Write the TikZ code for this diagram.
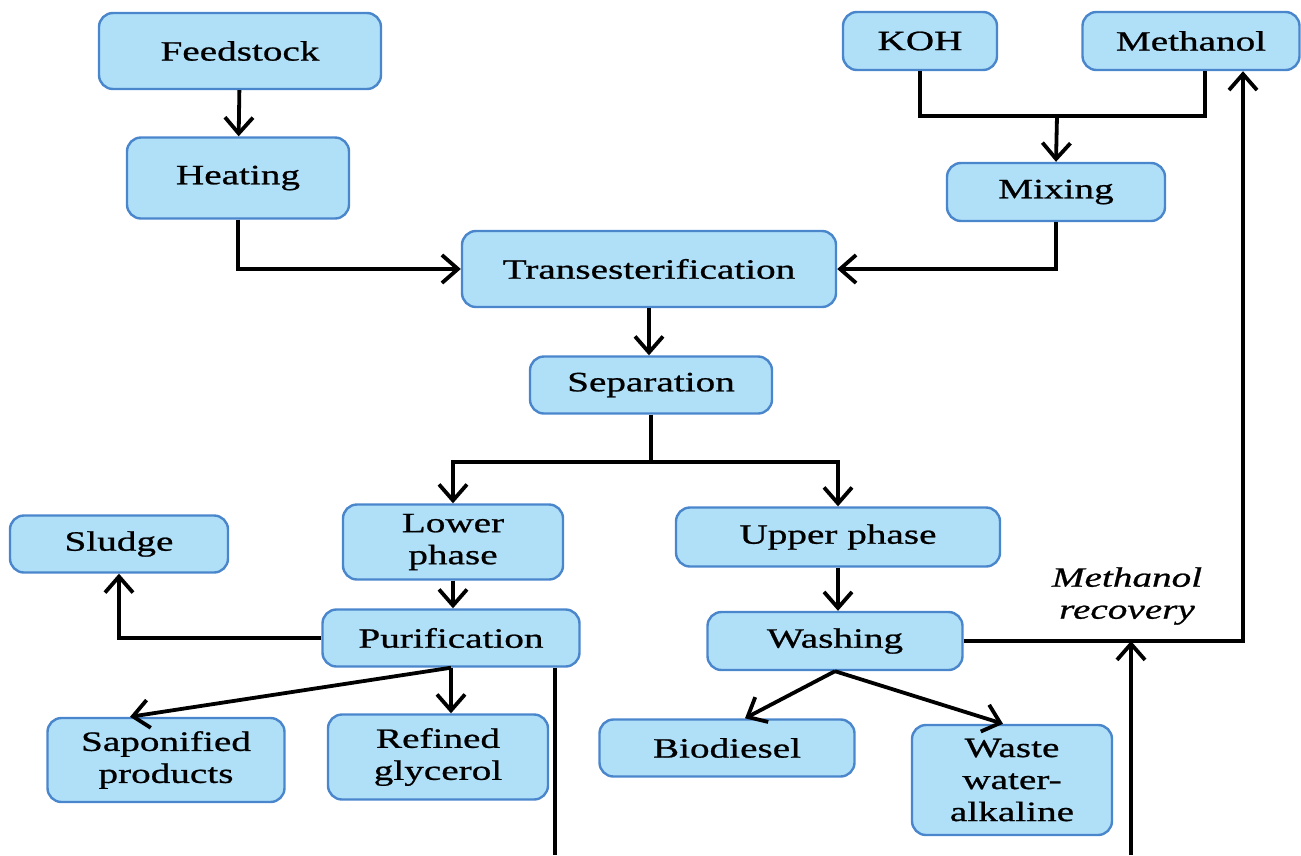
\documentclass[tikz,border=0pt]{standalone}
\usepackage{fontspec}
\setmainfont[FakeStretch=1.4,FakeBold=0.8]{Liberation Serif}
\usetikzlibrary{arrows.meta}
\definecolor{boxfill}{RGB}{176,223,248}
\definecolor{boxline}{RGB}{74,134,204}
\begin{document}
\begin{tikzpicture}[x=1pt,y=-1pt]
	% Styles for the stages and the flows
	\tikzset{stage/.style={draw=boxline, fill=boxfill, line width=2.4pt, rounded corners=14pt, align=center, inner sep=0pt, font=\fontsize{28}{32}\selectfont},
		flow/.style={line width=3.8pt, -{Straight Barb[length=16pt,width=28pt]}},
		pipe/.style={line width=3.8pt}}
	\useasboundingbox (0,0) rectangle (1301,855);
	
	% Feed and catalyst side
	\node[stage, minimum width=282pt, minimum height=76pt] (feed) at (240,51) {Feedstock};
	\node[stage, minimum width=222pt, minimum height=81pt] (heat) at (238,178) {Heating};
	\node[stage, minimum width=154pt, minimum height=58pt] (koh) at (920,41) {KOH};
	\node[stage, minimum width=217pt, minimum height=58pt] (meth) at (1191,41) {Methanol};
	\node[stage, minimum width=218pt, minimum height=58pt] (mix) at (1056,192) {Mixing};
	
	% Reaction and separation
	\node[stage, minimum width=374pt, minimum height=76pt] (trans) at (649,269) {Transesterification};
	\node[stage, minimum width=242pt, minimum height=57pt] (sep) at (651,385) {Separation};
	
	% Lower phase branch
	\node[stage, minimum width=220pt, minimum height=75pt] (lower) at (453,542) {Lower\\phase};
	\node[stage, minimum width=218pt, minimum height=57pt] (sludge) at (119,544) {Sludge};
	\node[stage, minimum width=257pt, minimum height=57pt] (pur) at (451,638) {Purification};
	\node[stage, minimum width=237pt, minimum height=84pt] (sap) at (166,760) {Saponified\\products};
	\node[stage, minimum width=220pt, minimum height=85pt] (ref) at (438,757) {Refined\\glycerol};
	
	% Upper phase branch
	\node[stage, minimum width=324pt, minimum height=59pt] (upper) at (838,537) {Upper phase};
	\node[stage, minimum width=255pt, minimum height=58pt] (wash) at (835,641) {Washing};
	\node[stage, minimum width=255pt, minimum height=57pt] (bio) at (727,748) {Biodiesel};
	\node[stage, minimum width=200pt, minimum height=110pt] (waste) at (1012,780) {Waste\\water-\\alkaline};
	
	\node[align=center, font=\fontsize{28}{32}\selectfont\itshape] (rec) at (1127,596) {Methanol\\recovery};
	
	% Junctions and loose ends
	\coordinate (jn) at (1057,116);
	\coordinate (split) at (651,462);
	\coordinate (pbot) at (555,855);
	\coordinate (rbot) at (1131,855);
	
	% Draw the flows
	\draw[flow] (feed) -- (heat);
	\draw[flow] (heat.south) |- (trans.west);
	\draw[pipe] (koh.south) |- (jn);
	\draw[pipe] ([xshift=14pt]meth.south) |- (jn);
	\draw[flow] (jn) -- (mix.north);
	\draw[flow] (mix.south) |- (trans.east);
	\draw[flow] (trans) -- (trans |- sep.north);
	\draw[pipe] (sep.south) -- (split);
	\draw[flow] (split) -| (lower.north);
	\draw[flow] (split) -| (upper.north);
	
	\draw[flow] (lower) -- (lower |- pur.north);
	\draw[flow] (pur.west) -| (sludge.south);
	\draw[flow] (pur.south) -- ([xshift=-36pt]sap.north);
	\draw[flow] (pur.south) -- (pur.south |- ref.north);
	\draw[pipe] (pbot |- pur.south) -- (pbot);
	
	\draw[flow] (upper) -- (upper |- wash.north);
	\draw[flow] (wash.south) -- ([xshift=18pt]bio.north);
	\draw[flow] (wash.south) -- ([xshift=-9pt]waste.north);
	\draw[flow] (wash.east) -| ([xshift=52pt]meth.south);
	\draw[flow] (rbot) -- (rbot |- wash.east);
\end{tikzpicture}
\end{document}
